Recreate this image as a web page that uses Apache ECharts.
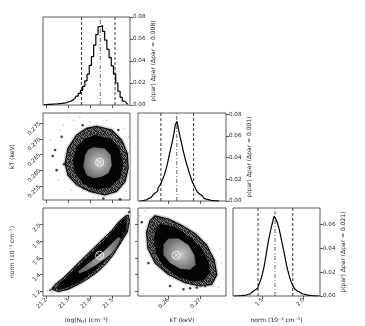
<!DOCTYPE html>
<html>
<head>
<meta charset="utf-8">
<title>corner plot</title>
<style>
  html, body { margin: 0; padding: 0; background: #fff; }
  #chart { width: 365px; height: 326px; }
</style>
</head>
<body>
<div id="chart"></div>
<script src="https://cdn.jsdelivr.net/npm/echarts@6/dist/echarts.min.js"></script>
<script>
// axis ranges and ticks
var nhRange = [21.185, 21.58];
var ktRange = [0.2505, 0.2782];
var normRange = [1.14, 2.2];
var nhTicks = [21.2, 21.3, 21.4, 21.5];
var ktTicks = [0.255, 0.26, 0.265, 0.27, 0.275];
var ktBottomTicks = [0.26, 0.27];
var normTicks = [1.2, 1.4, 1.6, 1.8, 2.0];
var normBottomTicks = [1.5, 2.0];
var probTicks = [0, 0.02, 0.04, 0.06, 0.08];
var probTicks3 = [0, 0.02, 0.04, 0.06];
var probMax = [0.08, 0.081, 0.0735];

// 1D histograms (bin centre, p(par) dpar)
var nhBins = [21.19,21.20,21.21,21.22,21.23,21.24,21.25,21.26,21.27,21.28,21.29,21.30,21.31,21.32,21.33,21.34,21.35,21.36,21.37,21.38,21.39,21.40,21.41,21.42,21.43,21.44,21.45,21.46,21.47,21.48,21.49,21.50,21.51,21.52,21.53,21.54,21.55,21.56,21.57];
var nhHist = [0.0002,0.0003,0.0005,0.0006,0.0008,0.0009,0.0010,0.0012,0.0014,0.0017,0.0020,0.0027,0.0034,0.0044,0.0060,0.0080,0.0105,0.0133,0.0170,0.0220,0.0280,0.0360,0.0440,0.0545,0.0640,0.0712,0.0722,0.0670,0.0590,0.0505,0.0430,0.0355,0.0280,0.0200,0.0125,0.0070,0.0035,0.0017,0.0006];

var ktBins = [0.2510,0.2515,0.2520,0.2525,0.2530,0.2535,0.2540,0.2545,0.2550,0.2555,0.2560,0.2565,0.2570,0.2575,0.2580,0.2585,0.2590,0.2595,0.2600,0.2605,0.2610,0.2615,0.2620,0.2625,0.2630,0.2635,0.2640,0.2645,0.2650,0.2655,0.2660,0.2665,0.2670,0.2675,0.2680,0.2685,0.2690,0.2695,0.2700,0.2705,0.2710,0.2715,0.2720,0.2725,0.2730,0.2735,0.2740,0.2745,0.2750,0.2755,0.2760];
var ktHist = [0.0000,0.0002,0.0004,0.0007,0.0011,0.0017,0.0025,0.0034,0.0046,0.0060,0.0075,0.0093,0.0115,0.0138,0.0165,0.0200,0.0236,0.0285,0.0340,0.0410,0.0475,0.0540,0.0610,0.0700,0.0735,0.0660,0.0590,0.0525,0.0460,0.0400,0.0345,0.0298,0.0250,0.0205,0.0165,0.0135,0.0105,0.0080,0.0062,0.0046,0.0033,0.0024,0.0017,0.0012,0.0009,0.0006,0.0004,0.0003,0.0002,0.0001,0.0000];

var normBins = [1.15,1.17,1.19,1.21,1.23,1.25,1.27,1.29,1.31,1.33,1.35,1.37,1.39,1.41,1.43,1.45,1.47,1.49,1.51,1.53,1.55,1.57,1.59,1.61,1.63,1.65,1.67,1.69,1.71,1.73,1.75,1.77,1.79,1.81,1.83,1.85,1.87,1.89,1.91,1.93,1.95,1.97,1.99,2.01,2.03,2.05,2.07,2.09,2.11,2.13,2.15,2.17,2.19];
var normHist = [0,0,0.0001,0.0002,0.0003,0.0004,0.0006,0.0008,0.0011,0.0015,0.0021,0.0029,0.0038,0.0050,0.0064,0.0080,0.0105,0.0140,0.0190,0.0250,0.0330,0.0415,0.0490,0.0555,0.0610,0.0665,0.0645,0.0612,0.0565,0.0505,0.0435,0.0370,0.0300,0.0235,0.0180,0.0135,0.0098,0.0072,0.0054,0.0040,0.0030,0.0023,0.0017,0.0013,0.0010,0.0008,0.0005,0.0003,0.0002,0.0001,0,0,0];

// 16%, 50%, 84% lines
var nhQuant = [21.36, 21.445, 21.512];
var ktQuant = [0.2577, 0.2627, 0.2680];
var normQuant = [1.445, 1.652, 1.868];

// best fit
var bestNH = 21.442, bestKT = 0.2625, bestNorm = 1.63;

// 2D contours: log(NH) vs kT
var aOuter = [[21.429,0.2740],[21.497,0.2728],[21.542,0.2696],[21.568,0.2653],[21.572,0.2606],[21.557,0.2563],[21.519,0.2532],[21.466,0.2521],[21.398,0.2532],[21.338,0.2553],[21.298,0.2584],[21.285,0.2622],[21.298,0.2669],[21.338,0.2712],[21.383,0.2733]];
var aRing = [[21.421,0.2712],[21.489,0.2701],[21.532,0.2669],[21.550,0.2622],[21.535,0.2574],[21.489,0.2545],[21.429,0.2539],[21.368,0.2556],[21.330,0.2590],[21.320,0.2632],[21.338,0.2675],[21.376,0.2701]];
var aCore = [[21.414,0.2673],[21.466,0.2669],[21.492,0.2648],[21.497,0.2616],[21.482,0.2590],[21.451,0.2579],[21.414,0.2574],[21.383,0.2584],[21.368,0.2611],[21.376,0.2648],[21.391,0.2666]];
var aDark = [[21.365,0.2743],[21.270,0.2706],[21.240,0.2664],[21.229,0.2645],[21.247,0.2600],[21.280,0.2619],[21.459,0.2510],[21.535,0.2507],[21.371,0.2542],[21.527,0.2728]];
var aLight = [[21.292,0.2770],[21.323,0.2759],[21.353,0.2768],[21.398,0.2754],[21.262,0.2728],[21.277,0.2744],[21.474,0.2759],[21.550,0.2733],[21.562,0.2532],[21.217,0.2696],[21.255,0.2569],[21.315,0.2537],[21.414,0.2513],[21.572,0.2706]];

// kT vs norm
var bOuter = [[0.2559,2.107],[0.2601,2.068],[0.2643,1.989],[0.2685,1.891],[0.2721,1.753],[0.2745,1.575],[0.2753,1.398],[0.2737,1.280],[0.2700,1.260],[0.2653,1.300],[0.2601,1.398],[0.2559,1.536],[0.2536,1.713],[0.2532,1.910],[0.2543,2.048]];
var bRing = [[0.2574,2.009],[0.2622,1.970],[0.2669,1.851],[0.2706,1.713],[0.2727,1.556],[0.2732,1.418],[0.2711,1.327],[0.2674,1.319],[0.2627,1.379],[0.2585,1.497],[0.2561,1.654],[0.2556,1.832],[0.2561,1.958]];
var bCore = [[0.2601,1.832],[0.2632,1.832],[0.2664,1.753],[0.2682,1.635],[0.2687,1.516],[0.2669,1.457],[0.2637,1.469],[0.2606,1.536],[0.2585,1.635],[0.2585,1.761]];
var bDark = [[0.2517,2.029],[0.2538,1.536],[0.2606,1.260],[0.2648,1.221],[0.2669,1.233],[0.2690,1.241],[0.2716,1.260]];
var bLight = [[0.2511,2.107],[0.2763,1.713],[0.2769,1.536],[0.2506,1.792],[0.2527,2.166],[0.2758,1.241]];

// log(NH) vs norm
var cOuter = [[21.224,1.221],[21.240,1.280],[21.277,1.359],[21.308,1.438],[21.345,1.536],[21.383,1.635],[21.421,1.733],[21.459,1.832],[21.497,1.930],[21.527,2.029],[21.557,2.100],[21.572,2.115],[21.578,2.048],[21.568,1.910],[21.550,1.832],[21.527,1.733],[21.504,1.635],[21.474,1.536],[21.436,1.438],[21.391,1.351],[21.345,1.280],[21.300,1.221],[21.255,1.193]];
var cRing = [[21.247,1.260],[21.285,1.351],[21.323,1.446],[21.361,1.544],[21.398,1.643],[21.436,1.745],[21.474,1.843],[21.512,1.958],[21.547,2.060],[21.565,2.076],[21.562,1.930],[21.542,1.824],[21.516,1.721],[21.489,1.627],[21.459,1.536],[21.421,1.446],[21.376,1.351],[21.330,1.280],[21.285,1.233],[21.255,1.221]];
var cCore = [[21.345,1.438],[21.383,1.517],[21.421,1.595],[21.459,1.674],[21.497,1.773],[21.527,1.851],[21.538,1.832],[21.522,1.745],[21.492,1.642],[21.459,1.576],[21.421,1.505],[21.383,1.446],[21.350,1.410]];
var cDark = [[21.217,1.209],[21.232,1.240],[21.575,2.150]];
var cLight = [[21.205,1.200],[21.225,1.190],[21.245,1.260],[21.560,2.140],[21.215,1.230]];

var chart = echarts.init(document.getElementById('chart'));
var FONT = 'DejaVu Sans';
var TXT = '#222';

// small fixed dither tile for the speckled outer band
var tileRows = ['0520613', '3071402', '6204150', '1530726', '4162035', '0735102', '2403561'];
var tile = document.createElement('canvas');
tile.width = 7; tile.height = 7;
(function () {
    var ctx = tile.getContext('2d');
    tileRows.forEach(function (row, j) {
        for (var i = 0; i < row.length; i++) {
            var g = 20 + (+row[i]) * 18;
            ctx.fillStyle = 'rgb(' + g + ',' + g + ',' + g + ')';
            ctx.fillRect(i, j, 1, 1);
        }
    });
})();
var speckle = {image: tile, repeat: 'repeat'};

var grids = [
    {left: 43, top: 17, width: 87, height: 88},   // hist NH
    {left: 43, top: 113, width: 87, height: 87},  // NH - kT
    {left: 138, top: 113, width: 88, height: 88}, // hist kT
    {left: 43, top: 208, width: 87, height: 88},  // NH - norm
    {left: 138, top: 208, width: 88, height: 88}, // kT - norm
    {left: 233, top: 208, width: 87, height: 88}  // hist norm
];
grids.forEach(function (g) {
    g.show = true; g.borderColor = '#333'; g.borderWidth = 0.8; g.containLabel = false;
});

function axis(gi, range, ticks, opts) {
    opts = opts || {};
    var a = {
        type: 'value', gridIndex: gi, min: range[0], max: range[1],
        position: opts.position,
        splitLine: {show: false},
        axisLine: {show: false},
        axisTick: {show: true, inside: false, length: 3, customValues: ticks, lineStyle: {color: '#333', width: 0.8}},
        axisLabel: {
            show: !!opts.labels, customValues: ticks, rotate: opts.rotate || 0, margin: 3,
            fontSize: 5.6, fontFamily: FONT, color: TXT,
            formatter: function (v) { return v.toFixed(opts.dec); }
        }
    };
    if (opts.name) {
        a.name = opts.name;
        a.nameLocation = 'middle';
        a.nameGap = opts.nameGap;
        if (opts.nameRotate !== undefined) a.nameRotate = opts.nameRotate;
        a.nameTextStyle = {fontSize: 6, fontFamily: FONT, color: TXT, rich: opts.rich};
    }
    return a;
}

var xAxes = [
    axis(0, nhRange, nhTicks, {dec: 1}),
    axis(1, nhRange, nhTicks, {dec: 1}),
    axis(2, ktRange, ktBottomTicks, {dec: 2}),
    axis(3, nhRange, nhTicks, {dec: 1, labels: true, rotate: 45, name: 'log(N{s|H}) (cm⁻²)', nameGap: 21,
        rich: {s: {fontSize: 4.2, fontFamily: FONT, color: TXT, padding: [3, 0, 0, 0]}}}),
    axis(4, ktRange, ktBottomTicks, {dec: 2, labels: true, rotate: 45, name: 'kT (keV)', nameGap: 21}),
    axis(5, normRange, normBottomTicks, {dec: 1, labels: true, rotate: 45, name: 'norm (10⁻³ cm⁻⁵)', nameGap: 21})
];
var yAxes = [
    axis(0, [0, probMax[0]], probTicks, {dec: 2, labels: true, position: 'right', name: 'p(par) Δpar (Δpar = 0.008)', nameGap: 20, nameRotate: 90}),
    axis(1, ktRange, ktTicks, {dec: 3, labels: true, rotate: 45, name: 'kT (keV)', nameGap: 28}),
    axis(2, [0, probMax[1]], probTicks, {dec: 2, labels: true, position: 'right', name: 'p(par) Δpar (Δpar = 0.001)', nameGap: 20, nameRotate: 90}),
    axis(3, normRange, normTicks, {dec: 1, labels: true, rotate: 45, name: 'norm (10⁻³ cm⁻⁵)', nameGap: 28}),
    axis(4, normRange, normTicks, {dec: 1}),
    axis(5, [0, probMax[2]], probTicks3, {dec: 2, labels: true, position: 'right', name: 'p(par) Δpar (Δpar = 0.021)', nameGap: 20, nameRotate: 90})
];

function pairs(xs, ys) {
    return xs.map(function (x, i) { return [x, ys[i]]; });
}

function histSeries(gi, bins, vals) {
    return {
        type: 'line', xAxisIndex: gi, yAxisIndex: gi, step: 'middle', z: 3,
        data: pairs(bins, vals), symbol: 'none', silent: true, animation: false,
        lineStyle: {color: '#000', width: 1.2}
    };
}

// vertical quantile line, drawn as a two-point line through the axes
function vline(gi, x, ymax, style) {
    return {
        type: 'line', xAxisIndex: gi, yAxisIndex: gi, data: [[x, 0], [x, ymax]],
        symbol: 'none', silent: true, animation: false, z: 2, lineStyle: style
    };
}
function quantLines(gi, q, ymax) {
    var dash = {color: '#222', width: 0.9, type: [3, 2]};
    var dashDot = {color: '#555', width: 0.9, type: [4, 2, 1, 2]};
    return [vline(gi, q[0], ymax, dash), vline(gi, q[1], ymax, dashDot), vline(gi, q[2], ymax, dash)];
}

function polySeries(gi, pts, fill, stroke, lw) {
    return {
        type: 'custom', coordinateSystem: 'cartesian2d', xAxisIndex: gi, yAxisIndex: gi,
        silent: true, animation: false, data: [pts[0]],
        renderItem: function (params, api) {
            return {
                type: 'polygon',
                shape: {points: pts.map(function (p) { return api.coord(p); })},
                style: {fill: fill, stroke: stroke || null, lineWidth: lw || 0}
            };
        }
    };
}

function dots(gi, pts, color, size) {
    return {
        type: 'scatter', xAxisIndex: gi, yAxisIndex: gi, data: pts, silent: true, animation: false,
        symbolSize: size, itemStyle: {color: color}
    };
}

var markerPath = 'path://M2,2L8,8M8,2L2,8M5,0.6A4.4,4.4,0,1,1,4.99,0.6Z';
function best(gi, x, y) {
    return {
        type: 'scatter', xAxisIndex: gi, yAxisIndex: gi, data: [[x, y]], silent: true, animation: false,
        symbol: markerPath, symbolSize: 8, z: 5,
        itemStyle: {color: 'rgba(0,0,0,0)', borderColor: '#fff', borderWidth: 1}
    };
}

function coreFill(c0, c1) {
    return new echarts.graphic.RadialGradient(0.55, 0.5, 0.6, [
        {offset: 0, color: c0}, {offset: 1, color: c1}
    ]);
}

var series = [].concat(
    [histSeries(0, nhBins, nhHist)], quantLines(0, nhQuant, probMax[0]),
    [histSeries(2, ktBins, ktHist)], quantLines(2, ktQuant, probMax[1]),
    [histSeries(5, normBins, normHist)], quantLines(5, normQuant, probMax[2]),
    [
        dots(1, aLight, '#b5b5b5', 1.6),
        polySeries(1, aOuter, '#d4d4d4', '#d4d4d4', 4),
        polySeries(1, aOuter, speckle, '#000', 1.1),
        polySeries(1, aRing, '#050505'),
        polySeries(1, aCore, coreFill('#c8c8c8', '#656565')),
        dots(1, aDark, '#111', 2.6),
        best(1, bestNH, bestKT),

        dots(4, bLight, '#b5b5b5', 1.6),
        polySeries(4, bOuter, '#d4d4d4', '#d4d4d4', 4),
        polySeries(4, bOuter, speckle, '#000', 1.1),
        polySeries(4, bRing, '#050505'),
        polySeries(4, bCore, coreFill('#c8c8c8', '#656565')),
        dots(4, bDark, '#111', 2.6),
        best(4, bestKT, bestNorm),

        dots(3, cLight, '#b5b5b5', 1.6),
        polySeries(3, cOuter, '#d4d4d4', '#d4d4d4', 3),
        polySeries(3, cOuter, speckle, '#000', 1),
        polySeries(3, cRing, '#050505'),
        polySeries(3, cCore, coreFill('#b0b0b0', '#6a6a6a')),
        dots(3, cDark, '#111', 2.2),
        best(3, bestNH, bestNorm)
    ]
);

chart.setOption({
    animation: false,
    backgroundColor: '#fff',
    grid: grids,
    xAxis: xAxes,
    yAxis: yAxes,
    series: series
});
</script>
</body>
</html>
